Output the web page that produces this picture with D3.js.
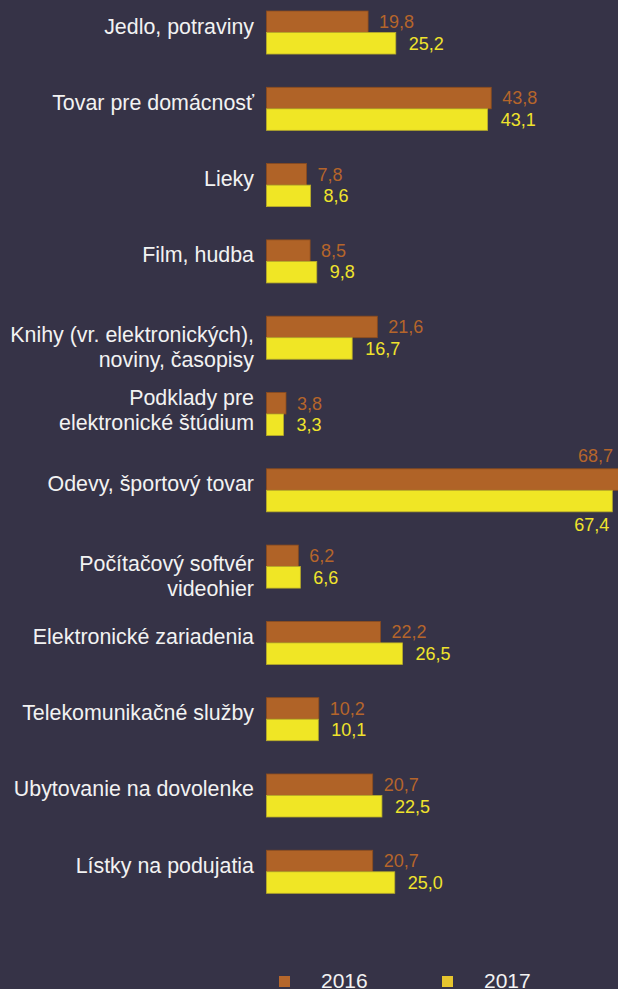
<!DOCTYPE html>
<html>
<head>
<meta charset="utf-8">
<title></title>
<script src="https://cdn.jsdelivr.net/npm/d3@7"></script>
<style>
	body{margin:0;background:#363347;}
	svg{display:block;font-family:Arial,"Liberation Sans",Helvetica,sans-serif;}
</style>
</head>
<body>
<script>
var w=618;
var h=989;

// data
var categories=["Jedlo, potraviny","Tovar pre domácnosť","Lieky","Film, hudba",
	"Knihy (vr. elektronických),\nnoviny, časopisy","Podklady pre\nelektronické štúdium",
	"Odevy, športový tovar","Počítačový softvér\nvideohier","Elektronické zariadenia",
	"Telekomunikačné služby","Ubytovanie na dovolenke","Lístky na podujatia"];
var years=["2016","2017"];
var values2016=[19.8,43.8,7.8,8.5,21.6,3.8,68.7,6.2,22.2,10.2,20.7,20.7];
var values2017=[25.2,43.1,8.6,9.8,16.7,3.3,67.4,6.6,26.5,10.1,22.5,25.0];

var barColors=["#b06327","#f0e625"];
var strokeColors=["#8c4c1e","#b9ad2a"];
var textColors=["#b5652b","#f0e32c"];
var legendColors=["#b5672c","#e6c52e"];

var rows=categories.map(function(c,i){return {cat:c,i:i,vals:[values2016[i],values2017[i]]};});

var svg=d3.select("body").append("svg").attr("width",w).attr("height",h);

var x=d3.scaleLinear().domain([0,67.4]).range([266.5,612.3]);
var y=d3.scaleBand().domain(categories).range([11,893.3]).paddingInner(0.436).paddingOuter(0);
var ySub=d3.scaleBand().domain(years).range([0,y.bandwidth()]);

var fmt=function(v){return d3.format(".1f")(v).replace(".",",");};

var group=svg.selectAll("g.cat")
	.data(rows)
	.enter()
	.append("g")
	.attr("class","cat")
	.attr("transform",function(d){return "translate(0,"+y(d.cat)+")";});

// bars
group.selectAll("rect")
	.data(function(d){return d.vals.map(function(v,k){return {v:v,k:k};});})
	.enter()
	.append("rect")
	.attr("x",x(0))
	.attr("y",function(d){return ySub(years[d.k]);})
	.attr("width",function(d){return x(d.v)-x(0);})
	.attr("height",ySub.bandwidth())
	.attr("fill",function(d){return barColors[d.k];})
	.attr("stroke",function(d){return strokeColors[d.k];})
	.attr("stroke-width",0.8);

// value labels
group.selectAll("text.val")
	.data(function(d){return d.vals.map(function(v,k){return {v:v,k:k};});})
	.enter()
	.append("text")
	.attr("class","val")
	.attr("font-size","18px")
	.attr("fill",function(d){return textColors[d.k];})
	.each(function(d){
		var t=d3.select(this).text(fmt(d.v));
		var end=x(d.v)+(d.k==0?11:13);
		if(end+40>w){
			// no room on the right: put it above / below the bar
			t.attr("text-anchor","end")
				.attr("x",Math.min(x(d.v),616)-3)
				.attr("y",d.k==0?ySub(years[0])-12.6:ySub(years[1])+ySub.bandwidth()+13)
				.attr("dy","0.35em");
		}else{
			t.attr("x",end)
				.attr("y",ySub(years[d.k])+ySub.bandwidth()/2)
				.attr("dy","0.35em");
		}
	});

// category labels
var lowered=[4,7]; // these two sit a line lower in the original
group.append("text")
	.attr("class","lab")
	.attr("text-anchor","end")
	.attr("font-size","21.4px")
	.attr("fill","#f2f2f2")
	.each(function(d){
		var lines=d.cat.split("\n");
		var c=y.bandwidth()/2;
		var base=c+1-(lines.length-1)*10+(lowered.indexOf(d.i)>=0?13.5:0);
		var t=d3.select(this);
		lines.forEach(function(l,j){
			t.append("tspan").attr("x",254).attr("y",base+j*25).text(l);
		});
	});

// legend
var legend=svg.selectAll("g.leg")
	.data(years)
	.enter()
	.append("g")
	.attr("class","leg")
	.attr("transform",function(d,i){return "translate("+(279+i*163)+",976)";});
legend.append("rect")
	.attr("width",11)
	.attr("height",11)
	.attr("fill",function(d,i){return legendColors[i];});
legend.append("text")
	.attr("x",42)
	.attr("y",12)
	.attr("font-size","21px")
	.attr("fill","#f2f2f2")
	.text(function(d){return d;});
</script>
</body>
</html>
